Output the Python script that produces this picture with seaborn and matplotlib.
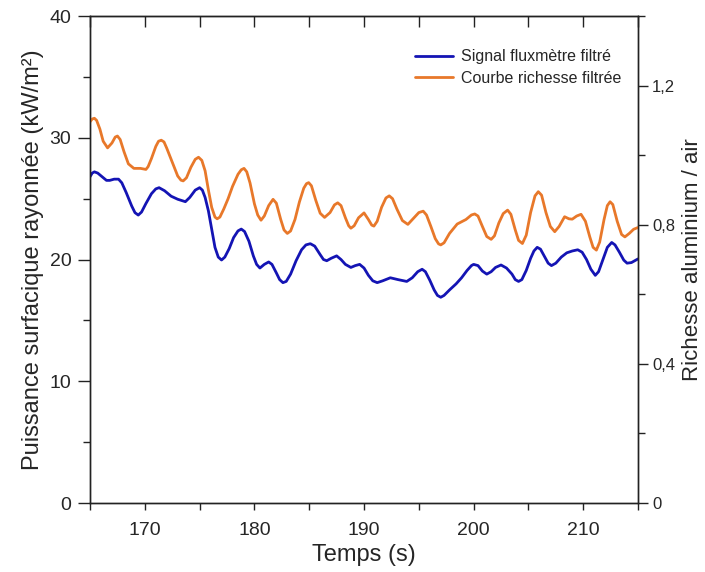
import matplotlib
matplotlib.use("Agg")
from matplotlib import pyplot as plt
from matplotlib.ticker import MultipleLocator, FixedLocator
import seaborn as sns
import pandas as pd

# filtered richesse curve (right axis), (time s, richesse)
rich_points = [
    (165.0, 1.096), (165.2, 1.104), (165.4, 1.106), (165.6, 1.10), (165.9, 1.075),
    (166.2, 1.04), (166.6, 1.021), (167.0, 1.035), (167.3, 1.052), (167.5, 1.055),
    (167.75, 1.045), (168.1, 1.01), (168.5, 0.975), (169.0, 0.962), (169.6, 0.962),
    (170.1, 0.959), (170.3, 0.967), (170.6, 0.99), (171.0, 1.025), (171.25, 1.040),
    (171.5, 1.043), (171.75, 1.038), (172.0, 1.02), (172.5, 0.98), (173.0, 0.94),
    (173.3, 0.928), (173.5, 0.926), (173.8, 0.935), (174.2, 0.965), (174.6, 0.988),
    (174.9, 0.994), (175.2, 0.985), (175.5, 0.955), (175.8, 0.90), (176.1, 0.85),
    (176.4, 0.822), (176.6, 0.817), (176.85, 0.822), (177.2, 0.845), (177.6, 0.875),
    (178.0, 0.91), (178.5, 0.945), (178.8, 0.958), (179.05, 0.962), (179.3, 0.952),
    (179.6, 0.92), (180.0, 0.86), (180.3, 0.828), (180.6, 0.813), (180.9, 0.825),
    (181.3, 0.855), (181.7, 0.873), (182.0, 0.862), (182.4, 0.815), (182.7, 0.785),
    (183.0, 0.775), (183.3, 0.782), (183.7, 0.815), (184.1, 0.865), (184.5, 0.905),
    (184.75, 0.918), (184.95, 0.921), (185.2, 0.912), (185.6, 0.87), (186.0, 0.833),
    (186.4, 0.821), (186.9, 0.835), (187.3, 0.857), (187.6, 0.863), (187.9, 0.855),
    (188.3, 0.82), (188.6, 0.797), (188.8, 0.790), (189.1, 0.797), (189.5, 0.82),
    (190.0, 0.834), (190.4, 0.815), (190.7, 0.799), (190.9, 0.796), (191.2, 0.81),
    (191.6, 0.85), (192.0, 0.877), (192.3, 0.883), (192.6, 0.875), (193.0, 0.845),
    (193.5, 0.812), (194.0, 0.801), (194.5, 0.818), (195.0, 0.835), (195.4, 0.839),
    (195.7, 0.828), (196.1, 0.795), (196.5, 0.76), (196.8, 0.745), (197.0, 0.742),
    (197.3, 0.748), (197.8, 0.775), (198.5, 0.802), (199.3, 0.815), (199.8, 0.828),
    (200.1, 0.831), (200.4, 0.825), (200.8, 0.795), (201.2, 0.766), (201.6, 0.758),
    (201.9, 0.768), (202.3, 0.805), (202.7, 0.832), (203.1, 0.842), (203.4, 0.83),
    (203.8, 0.785), (204.1, 0.755), (204.45, 0.746), (204.8, 0.77), (205.2, 0.835),
    (205.6, 0.883), (205.9, 0.895), (206.2, 0.885), (206.6, 0.835), (207.0, 0.795),
    (207.4, 0.780), (207.8, 0.795), (208.3, 0.823), (208.7, 0.817), (209.0, 0.816),
    (209.4, 0.825), (209.8, 0.830), (210.2, 0.81), (210.6, 0.765), (210.9, 0.735),
    (211.2, 0.727), (211.5, 0.75), (211.9, 0.815), (212.2, 0.855), (212.45, 0.866),
    (212.7, 0.858), (213.1, 0.81), (213.5, 0.772), (213.8, 0.765), (214.2, 0.775),
    (214.6, 0.787), (215.0, 0.792),
]

# filtered fluxmeter signal (left axis), (time s, kW/m2)
flux_points = [
    (165.0, 26.8), (165.2, 27.1), (165.4, 27.2), (165.7, 27.1), (166.1, 26.8),
    (166.5, 26.5), (166.8, 26.5), (167.2, 26.6), (167.6, 26.6), (167.9, 26.3),
    (168.3, 25.5), (168.8, 24.4), (169.1, 23.85), (169.4, 23.65), (169.7, 23.9),
    (170.1, 24.6), (170.6, 25.4), (171.0, 25.8), (171.3, 25.9), (171.8, 25.65),
    (172.4, 25.2), (173.0, 24.95), (173.7, 24.75), (174.1, 25.1), (174.6, 25.7),
    (175.0, 25.9), (175.25, 25.7), (175.5, 25.1), (175.8, 24.0), (176.1, 22.5),
    (176.4, 21.0), (176.7, 20.2), (177.0, 19.96), (177.3, 20.2), (177.7, 20.9),
    (178.1, 21.8), (178.5, 22.35), (178.8, 22.5), (179.1, 22.3), (179.5, 21.5),
    (179.9, 20.3), (180.2, 19.6), (180.5, 19.3), (180.9, 19.6), (181.3, 19.8),
    (181.6, 19.6), (182.0, 18.9), (182.3, 18.35), (182.6, 18.1), (182.9, 18.2),
    (183.3, 18.8), (183.8, 19.9), (184.3, 20.8), (184.7, 21.2), (185.1, 21.3),
    (185.5, 21.1), (186.0, 20.4), (186.3, 20.0), (186.6, 19.9), (187.0, 20.1),
    (187.5, 20.3), (187.9, 20.0), (188.3, 19.6), (188.8, 19.35), (189.2, 19.5),
    (189.6, 19.6), (190.0, 19.3), (190.4, 18.7), (190.8, 18.25), (191.2, 18.1),
    (191.7, 18.25), (192.4, 18.5), (193.1, 18.35), (193.9, 18.2), (194.4, 18.5),
    (194.9, 19.0), (195.3, 19.2), (195.6, 19.0), (196.0, 18.3), (196.4, 17.5),
    (196.7, 17.05), (197.0, 16.9), (197.3, 17.05), (197.8, 17.5), (198.4, 18.0),
    (198.9, 18.5), (199.4, 19.1), (199.8, 19.5), (200.0, 19.6), (200.4, 19.5),
    (200.8, 19.05), (201.2, 18.8), (201.6, 19.0), (202.0, 19.35), (202.5, 19.55),
    (203.0, 19.3), (203.5, 18.8), (203.8, 18.35), (204.1, 18.2), (204.4, 18.35),
    (204.8, 19.1), (205.2, 20.1), (205.5, 20.7), (205.8, 21.0), (206.1, 20.85),
    (206.5, 20.2), (206.8, 19.7), (207.1, 19.5), (207.5, 19.7), (208.0, 20.2),
    (208.5, 20.55), (209.0, 20.7), (209.5, 20.8), (209.9, 20.6), (210.3, 20.0),
    (210.7, 19.2), (211.1, 18.7), (211.4, 19.0), (211.8, 20.0), (212.2, 21.0),
    (212.6, 21.4), (212.9, 21.2), (213.3, 20.6), (213.7, 19.95), (214.0, 19.7),
    (214.4, 19.75), (214.8, 19.95), (215.0, 20.05),
]

x_ticks = [170, 180, 190, 200, 210]
left_ticks = [0, 10, 20, 30, 40]
right_ticks = [0, 0.4, 0.8, 1.2]
right_labels = ["0", "0,4", "0,8", "1,2"]

label_flux = "Signal fluxmètre filtré"
label_rich = "Courbe richesse filtrée"


def make_plot():
    sns.set_style("ticks")
    plt.rcParams["font.family"] = ["Liberation Sans", "DejaVu Sans"]

    fig = plt.figure(figsize=(7.05, 5.72), dpi=100)
    ax = fig.add_axes([0.1277, 0.1206, 0.905 - 0.1277, 0.972 - 0.1206])
    ax2 = ax.twinx()

    flux = pd.DataFrame(flux_points, columns=["t", "v"])
    rich = pd.DataFrame(rich_points, columns=["t", "v"])

    sns.lineplot(data=flux, x="t", y="v", ax=ax, color="#1414b4",
                 linewidth=2.0, label=label_flux, legend=False,
                 solid_joinstyle="round")
    sns.lineplot(data=rich, x="t", y="v", ax=ax2, color="#e8782a",
                 linewidth=2.0, label=label_rich, legend=False,
                 solid_joinstyle="round")

    ax.set_xlim(165, 215)
    ax.set_ylim(0, 40)
    ax2.set_ylim(0, 1.4)

    ax.set_xticks(x_ticks)
    ax.xaxis.set_minor_locator(MultipleLocator(5))
    ax.set_yticks(left_ticks)
    ax.yaxis.set_minor_locator(MultipleLocator(5))
    ax2.set_yticks(right_ticks)
    ax2.set_yticklabels(right_labels)
    ax2.yaxis.set_minor_locator(MultipleLocator(0.2))

    for a in (ax, ax2):
        for s in a.spines.values():
            s.set_visible(True)
            s.set_linewidth(1.0)
            s.set_color("#222222")

    # tick lengths and pads are in points (1 pt = 1.39 px here)
    ax.tick_params(axis="x", which="major", labelsize=14, length=5,
                   width=1.0, direction="out", color="#222222", pad=9)
    ax.tick_params(axis="x", which="minor", length=5, width=1.0,
                   direction="out", color="#222222")
    ax.tick_params(axis="y", which="major", labelsize=14, length=8.5,
                   width=1.0, direction="out", color="#222222", pad=5)
    ax.tick_params(axis="y", which="minor", length=5, width=1.0,
                   direction="out", color="#222222")
    ax2.tick_params(axis="y", which="major", labelsize=12, length=7,
                    width=1.0, direction="out", color="#222222", pad=3)
    ax2.tick_params(axis="y", which="minor", length=5, width=1.0,
                    direction="out", color="#222222")

    # inward ticks along the top spine
    top = ax.secondary_xaxis("top")
    top.xaxis.set_major_locator(FixedLocator(list(range(165, 216, 5))))
    top.tick_params(direction="in", length=8, width=1.0, labeltop=False,
                    color="#222222")
    top.set_xticklabels([])

    ax.set_xlabel("Temps (s)", fontsize=17, labelpad=3)
    ax.set_ylabel("Puissance surfacique rayonnée (kW/m²)", fontsize=17,
                  labelpad=4)
    ax2.set_ylabel("Richesse aluminium / air", fontsize=16)
    ax2.yaxis.set_label_coords(1.0805, 0.5)

    handles = ax.get_lines()[:1] + ax2.get_lines()[:1]
    ax2.legend(handles, [label_flux, label_rich], loc="upper right",
               bbox_to_anchor=(0.981, 0.945), borderaxespad=0, frameon=False,
               fontsize=11.5, handlelength=2.4, handletextpad=0.5,
               labelspacing=0.4)

    sns.despine(ax=ax, top=False, right=False)


if __name__ == "__main__":
    make_plot()
    plt.savefig("out.png", dpi=100)
    plt.close()
